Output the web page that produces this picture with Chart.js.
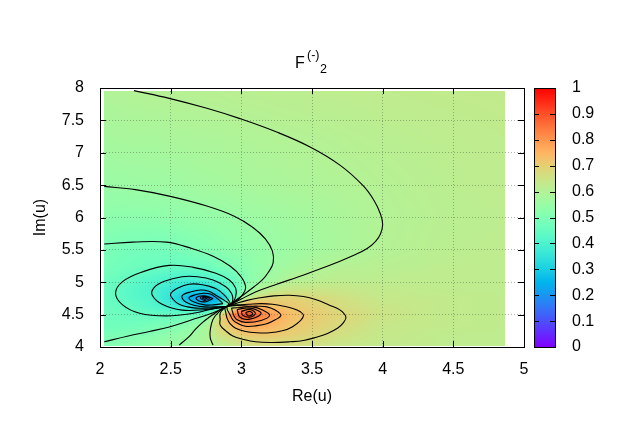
<!DOCTYPE html>
<html>
<head>
<meta charset="utf-8">
<title>F(-)2</title>
<script src="https://cdn.jsdelivr.net/npm/chart.js@4/dist/chart.umd.min.js"></script>
<style>
  html, body { margin: 0; padding: 0; background: #fff; }
  canvas { display: block; }
</style>
</head>
<body>
<canvas id="chart" width="623" height="436"></canvas>
<script>
// Tick labels
const xTicks = [2, 2.5, 3, 3.5, 4, 4.5, 5];
const yTicks = [4, 4.5, 5, 5.5, 6, 6.5, 7, 7.5, 8];
const cbTicks = [0, 0.1, 0.2, 0.3, 0.4, 0.5, 0.6, 0.7, 0.8, 0.9, 1];

// Surface: one row per heatY, one column per heatX
const heatX = [2.03, 2.2, 2.35, 2.5, 2.62, 2.74, 2.84, 2.9, 2.97, 3.05, 3.13, 3.22, 3.35, 3.5, 3.7, 4.0, 4.4, 4.86];
const heatY = [4.03, 4.2, 4.35, 4.5, 4.63, 4.76, 4.9, 5.05, 5.25, 5.5, 6.0, 6.5, 7.2, 7.95];
const heatValues = [
  [.51, .52, .53, .545, .56, .585, .61, .62, .635, .655, .665, .665, .665, .655, .64, .63, .625, .625],
  [.49, .495, .51, .53, .55, .58, .645, .675, .69, .715, .715, .715, .70, .685, .66, .635, .625, .625],
  [.47, .47, .48, .495, .525, .565, .67, .71, .755, .775, .77, .75, .72, .70, .675, .64, .63, .625],
  [.47, .46, .45, .45, .46, .475, .62, .76, .87, .92, .85, .79, .735, .71, .685, .65, .63, .625],
  [.46, .445, .42, .395, .35, .29, .33, .58, .70, .79, .77, .73, .715, .70, .67, .645, .63, .625],
  [.46, .43, .41, .35, .26, .17, .245, .35, .47, .62, .67, .69, .695, .68, .66, .635, .63, .625],
  [.46, .43, .405, .365, .33, .32, .35, .42, .45, .53, .595, .62, .64, .645, .64, .63, .625, .625],
  [.47, .445, .42, .40, .385, .40, .42, .44, .475, .515, .545, .565, .60, .61, .62, .62, .625, .625],
  [.485, .47, .46, .45, .45, .46, .48, .495, .51, .525, .54, .555, .57, .59, .605, .612, .62, .625],
  [.492, .48, .475, .48, .495, .505, .517, .523, .53, .535, .542, .55, .558, .568, .583, .603, .615, .623],
  [.525, .525, .525, .53, .535, .54, .543, .545, .55, .555, .558, .562, .568, .575, .587, .60, .612, .62],
  [.552, .555, .558, .56, .565, .57, .573, .575, .577, .58, .583, .585, .588, .592, .597, .605, .615, .625],
  [.575, .58, .58, .585, .587, .59, .59, .592, .593, .595, .597, .598, .601, .603, .607, .613, .62, .625],
  [.595, .60, .603, .606, .608, .61, .61, .612, .613, .614, .615, .617, .618, .62, .622, .625, .628, .63]
];

// Contour lines, as [Re(u), Im(u)]
const lineOuter = [[2.24, 7.96], [2.49, 7.84], [2.75, 7.69], [2.99, 7.527], [3.25, 7.32], [3.49, 7.085], [3.70, 6.805], [3.86, 6.495], [3.94, 6.26], [3.985, 6.05], [4.00, 5.89], [3.985, 5.75], [3.95, 5.63], [3.89, 5.52], [3.80, 5.42], [3.68, 5.31], [3.55, 5.20], [3.40, 5.08], [3.25, 4.97], [3.10, 4.85], [3.00, 4.74], [2.90, 4.63]];
const lineBottomLeft = [[2.90, 4.63], [2.80, 4.53], [2.65, 4.42], [2.49, 4.31], [2.35, 4.24], [2.20, 4.17], [2.03, 4.08]];
const lineUpper = [[2.03, 6.48], [2.25, 6.43], [2.49, 6.33], [2.75, 6.18], [2.95, 6.02], [3.08, 5.85], [3.17, 5.67], [3.22, 5.48], [3.225, 5.30], [3.19, 5.15], [3.15, 5.04], [3.09, 4.93], [3.03, 4.83], [2.96, 4.72], [2.93, 4.67], [2.90, 4.63]];
const lineMiddle = [[2.03, 5.59], [2.23, 5.62], [2.47, 5.62], [2.65, 5.52], [2.80, 5.40], [2.92, 5.25], [3.00, 5.08], [3.03, 4.91], [2.99, 4.76], [2.94, 4.68], [2.90, 4.63]];
const lineDownA = [[2.90, 4.63], [2.84, 4.56], [2.78, 4.47], [2.72, 4.37], [2.67, 4.26], [2.63, 4.16], [2.56, 4.03]];
const lineDownB = [[2.90, 4.63], [2.85, 4.56], [2.80, 4.43], [2.78, 4.26], [2.78, 4.14], [2.80, 4.03]];
const blueLoop1 = [[2.90, 4.63], [2.94, 4.69], [2.96, 4.78], [2.96, 4.91], [2.915, 5.035], [2.82, 5.14], [2.66, 5.23], [2.49, 5.26], [2.30, 5.16], [2.16, 5.01], [2.11, 4.83], [2.16, 4.65], [2.28, 4.52], [2.47, 4.48], [2.66, 4.52], [2.82, 4.60], [2.87, 4.61], [2.90, 4.63]];
const blueLoop2 = [[2.90, 4.63], [2.93, 4.67], [2.94, 4.74], [2.93, 4.83], [2.89, 4.93], [2.80, 5.035], [2.69, 5.085], [2.58, 5.085], [2.45, 5.01], [2.38, 4.91], [2.37, 4.80], [2.44, 4.66], [2.58, 4.57], [2.75, 4.58], [2.86, 4.61], [2.90, 4.63]];
const blueLoop3 = [[2.90, 4.63], [2.92, 4.67], [2.91, 4.72], [2.88, 4.80], [2.83, 4.89], [2.77, 4.94], [2.70, 4.97], [2.63, 4.97], [2.56, 4.92], [2.50, 4.82], [2.52, 4.73], [2.56, 4.66], [2.62, 4.62], [2.68, 4.60], [2.75, 4.60], [2.82, 4.61], [2.90, 4.63]];
const blueLoop4 = [[2.90, 4.63], [2.91, 4.67], [2.88, 4.72], [2.82, 4.80], [2.77, 4.86], [2.71, 4.88], [2.64, 4.85], [2.59, 4.81], [2.58, 4.76], [2.61, 4.69], [2.67, 4.64], [2.74, 4.62], [2.82, 4.62], [2.90, 4.63]];
const blueLoop5 = [[2.87, 4.67], [2.83, 4.75], [2.78, 4.82], [2.73, 4.83], [2.68, 4.81], [2.63, 4.76], [2.67, 4.69], [2.74, 4.65], [2.80, 4.65], [2.87, 4.67]];
const blueLoop6 = [[2.80, 4.75], [2.74, 4.79], [2.68, 4.76], [2.70, 4.71], [2.75, 4.70], [2.80, 4.75]];
const blueLoop7 = [[2.78, 4.75], [2.74, 4.78], [2.71, 4.76], [2.74, 4.72], [2.78, 4.75]];
const blueLoop8 = [[2.76, 4.755], [2.74, 4.77], [2.725, 4.755], [2.74, 4.74], [2.76, 4.755]];
const redLoop1 = [[2.90, 4.63], [2.96, 4.67], [3.04, 4.72], [3.13, 4.76], [3.23, 4.79], [3.34, 4.80], [3.44, 4.78], [3.53, 4.73], [3.62, 4.65], [3.70, 4.57], [3.74, 4.46], [3.72, 4.37], [3.68, 4.29], [3.61, 4.21], [3.53, 4.15], [3.44, 4.10], [3.34, 4.08], [3.22, 4.07], [3.10, 4.08], [3.01, 4.12], [2.94, 4.17], [2.89, 4.25], [2.85, 4.34], [2.85, 4.43], [2.85, 4.52], [2.875, 4.59], [2.90, 4.63]];
const redLoop2 = [[2.90, 4.63], [2.97, 4.65], [3.05, 4.66], [3.14, 4.67], [3.22, 4.66], [3.30, 4.63], [3.37, 4.59], [3.42, 4.54], [3.44, 4.49], [3.42, 4.41], [3.36, 4.31], [3.29, 4.25], [3.20, 4.22], [3.11, 4.22], [3.03, 4.24], [2.96, 4.29], [2.92, 4.36], [2.90, 4.44], [2.89, 4.53], [2.885, 4.60], [2.90, 4.63]];
const redLoop3 = [[2.90, 4.63], [2.97, 4.64], [3.05, 4.63], [3.12, 4.63], [3.18, 4.62], [3.24, 4.57], [3.28, 4.49], [3.24, 4.42], [3.18, 4.36], [3.11, 4.33], [3.03, 4.32], [2.97, 4.37], [2.94, 4.42], [2.92, 4.50], [2.90, 4.58], [2.90, 4.63]];
const redLoop4 = [[2.93, 4.60], [3.00, 4.61], [3.08, 4.62], [3.15, 4.57], [3.20, 4.49], [3.14, 4.41], [3.03, 4.38], [2.97, 4.42], [2.95, 4.47], [2.93, 4.60]];
const redLoop5 = [[2.97, 4.58], [3.06, 4.60], [3.14, 4.52], [3.06, 4.43], [2.99, 4.46], [2.97, 4.58]];
const redLoop6 = [[3.00, 4.55], [3.06, 4.58], [3.10, 4.52], [3.06, 4.46], [3.01, 4.49], [3.00, 4.55]];
const redLoop7 = [[3.03, 4.53], [3.06, 4.55], [3.08, 4.51], [3.05, 4.48], [3.03, 4.53]];

const contourLines = [
  lineOuter, lineBottomLeft, lineUpper, lineMiddle, lineDownA, lineDownB,
  blueLoop1, blueLoop2, blueLoop3, blueLoop4, blueLoop5, blueLoop6, blueLoop7, blueLoop8,
  redLoop1, redLoop2, redLoop3, redLoop4, redLoop5, redLoop6, redLoop7
];

const FONT_FAMILY = "'Liberation Sans', Arial, sans-serif";
const FONT_SIZE = 16;

// Same colours as the gnuplot palette rgbformulae 33,13,10
function paletteColor(v) {
  const clip = (c) => Math.round(255 * Math.min(1, Math.max(0, c)));
  const r = clip(Math.abs(2 * v - 0.5));
  const g = clip(Math.sin(Math.PI * v));
  const b = clip(Math.cos((Math.PI / 2) * v));
  return `rgb(${r},${g},${b})`;
}

// Colour surface, under the grid
const heatPlugin = {
  id: "heat",
  beforeDraw(chart) {
    const { ctx, scales } = chart;
    const SUB = 2; // size of a painted block in px
    ctx.save();
    for (let j = 0; j < heatY.length - 1; j++) {
      const yBottom = scales.y.getPixelForValue(heatY[j]);
      const yTop = scales.y.getPixelForValue(heatY[j + 1]);
      const ny = Math.max(1, Math.round((yBottom - yTop) / SUB));
      for (let i = 0; i < heatX.length - 1; i++) {
        const xLeft = scales.x.getPixelForValue(heatX[i]);
        const xRight = scales.x.getPixelForValue(heatX[i + 1]);
        const nx = Math.max(1, Math.round((xRight - xLeft) / SUB));
        for (let a = 0; a < nx; a++) {
          for (let b = 0; b < ny; b++) {
            const tx = (a + 0.5) / nx;
            const ty = (b + 0.5) / ny;
            const v =
              heatValues[j][i] * (1 - tx) * (1 - ty) +
              heatValues[j][i + 1] * tx * (1 - ty) +
              heatValues[j + 1][i] * (1 - tx) * ty +
              heatValues[j + 1][i + 1] * tx * ty;
            const x0 = Math.floor(xLeft + ((xRight - xLeft) * a) / nx);
            const x1 = Math.ceil(xLeft + ((xRight - xLeft) * (a + 1)) / nx);
            const y1 = Math.ceil(yBottom - ((yBottom - yTop) * b) / ny);
            const y0 = Math.floor(yBottom - ((yBottom - yTop) * (b + 1)) / ny);
            ctx.fillStyle = paletteColor(v);
            ctx.fillRect(x0, y0, x1 - x0, y1 - y0);
          }
        }
      }
    }
    ctx.restore();
  },
};

// Frame, inward ticks, colour box and title
const framePlugin = {
  id: "frame",
  afterDraw(chart) {
    const { ctx, scales, chartArea } = chart;
    const { left, right, top, bottom } = chartArea;
    const TICK = 6;
    const BAR_LEFT = 534;
    const BAR_RIGHT = 555;

    ctx.save();

    // colour box, one strip per pixel
    const barTop = scales.cb.getPixelForValue(1);
    const barBottom = scales.cb.getPixelForValue(0);
    for (let p = Math.floor(barTop); p < barBottom; p++) {
      ctx.fillStyle = paletteColor(scales.cb.getValueForPixel(p + 0.5));
      ctx.fillRect(BAR_LEFT, p, BAR_RIGHT - BAR_LEFT, 1);
    }

    ctx.strokeStyle = "#000";
    ctx.lineWidth = 1;
    ctx.beginPath();
    xTicks.forEach((t) => {
      const x = Math.round(scales.x.getPixelForValue(t)) + 0.5;
      ctx.moveTo(x, bottom);
      ctx.lineTo(x, bottom - TICK);
      ctx.moveTo(x, top);
      ctx.lineTo(x, top + TICK);
    });
    yTicks.forEach((t) => {
      const y = Math.round(scales.y.getPixelForValue(t)) + 0.5;
      ctx.moveTo(left, y);
      ctx.lineTo(left + TICK, y);
      ctx.moveTo(right, y);
      ctx.lineTo(right - TICK, y);
    });
    cbTicks.forEach((t) => {
      const y = Math.round(scales.cb.getPixelForValue(t)) + 0.5;
      ctx.moveTo(BAR_LEFT, y);
      ctx.lineTo(BAR_LEFT + 5, y);
      ctx.moveTo(BAR_RIGHT, y);
      ctx.lineTo(BAR_RIGHT - 5, y);
    });
    ctx.stroke();

    ctx.strokeRect(left + 0.5, top + 0.5, right - left, bottom - top);
    ctx.strokeRect(BAR_LEFT + 0.5, barTop + 0.5, BAR_RIGHT - BAR_LEFT, barBottom - barTop);

    // title with super and subscript
    ctx.fillStyle = "#000";
    ctx.textBaseline = "alphabetic";
    ctx.textAlign = "left";
    ctx.font = `${FONT_SIZE}px ${FONT_FAMILY}`;
    ctx.fillText("F", 295, 68);
    ctx.font = `12.5px ${FONT_FAMILY}`;
    ctx.fillText("(-)", 307, 59);
    ctx.fillText("2", 320, 73);

    ctx.restore();
  },
};

function init() {
  const ctx = document.getElementById("chart").getContext("2d");
  const font = { family: FONT_FAMILY, size: FONT_SIZE };
  const gridColor = "rgba(60,80,60,0.42)";

  new Chart(ctx, {
    type: "scatter",
    data: {
      datasets: contourLines.map((line) => ({
        data: line.map(([x, y]) => ({ x, y })),
        showLine: true,
        tension: 0.4,
        pointRadius: 0,
        borderColor: "#000",
        borderWidth: 1.1,
      })),
    },
    options: {
      responsive: false,
      animation: false,
      layout: { padding: { top: 88 } },
      plugins: { legend: { display: false }, tooltip: { enabled: false } },
      scales: {
        x: {
          type: "linear",
          min: 2,
          max: 5,
          afterBuildTicks: (s) => { s.ticks = xTicks.map((value) => ({ value })); },
          afterFit: (s) => { s.height = 89; },
          ticks: { color: "#000", font, padding: 13, maxRotation: 0, autoSkip: false, callback: (v) => String(v) },
          grid: { color: gridColor, lineWidth: 1, drawTicks: false },
          border: { display: false, dash: [1, 2] },
          title: { display: true, text: "Re(u)", color: "#000", font, padding: { top: 0, bottom: 30 } },
        },
        y: {
          type: "linear",
          min: 4,
          max: 8,
          afterBuildTicks: (s) => { s.ticks = yTicks.map((value) => ({ value })); },
          afterFit: (s) => { s.width = 100; },
          ticks: { color: "#000", font, padding: 16, autoSkip: false, callback: (v) => String(v) },
          grid: { color: gridColor, lineWidth: 1, drawTicks: false },
          border: { display: false, dash: [1, 2] },
          title: { display: true, text: "Im(u)", color: "#000", font, padding: { top: 31, bottom: 0 } },
        },
        cb: {
          type: "linear",
          position: "right",
          min: 0,
          max: 1,
          afterBuildTicks: (s) => { s.ticks = cbTicks.map((value) => ({ value })); },
          afterFit: (s) => { s.width = 99; },
          ticks: { color: "#000", font, padding: 48, autoSkip: false, callback: (v) => String(v) },
          grid: { display: false, drawTicks: false },
          border: { display: false },
        },
      },
    },
    plugins: [heatPlugin, framePlugin],
  });
}

document.addEventListener("DOMContentLoaded", init);
</script>
</body>
</html>
